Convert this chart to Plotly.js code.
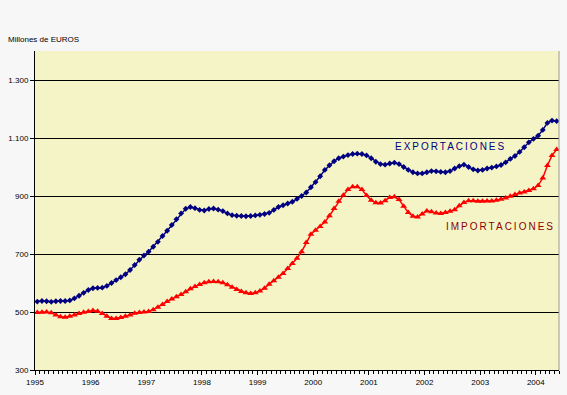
<!DOCTYPE html>
<html><head><meta charset="utf-8">
<script src="https://cdn.plot.ly/plotly-3.0.1.min.js"></script>
<style>html,body{margin:0;padding:0;background:#f7f7f7;}#chart{width:567px;height:395px;}</style>
</head><body><div id="chart"></div>
<script>
// Monthly data, Jan 1995 .. May 2004 (millones de euros)
const years = ["1995","1996","1997","1998","1999","2000","2001","2002","2003","2004"];
const exportaciones = [
536,538,537,535,537,538,538,540,547,556,566,576,
582,583,584,590,600,610,620,630,645,662,680,695,
708,725,742,762,780,800,820,840,856,862,858,852,
850,855,857,853,848,840,834,832,831,830,831,833,
835,838,842,852,862,868,874,880,890,900,912,930,
948,968,990,1006,1020,1030,1036,1041,1045,1046,1045,1040,
1030,1018,1010,1008,1012,1015,1010,1000,990,982,978,978,
982,986,985,983,982,986,995,1003,1008,1000,992,988,
990,995,998,1002,1007,1016,1028,1038,1052,1068,1085,1097,
1108,1128,1152,1160,1158];
const importaciones = [
498,499,500,497,490,484,482,485,490,495,499,502,
505,503,495,485,478,478,481,485,490,496,498,500,
502,508,516,526,536,545,553,560,570,580,588,595,
601,604,605,604,601,594,585,578,571,566,564,566,
572,582,596,608,620,633,650,667,685,708,740,768,
782,795,810,832,857,882,903,922,932,932,922,902,
885,877,876,884,895,897,888,865,843,830,828,838,
848,846,841,840,843,847,853,866,878,884,884,882,
882,883,883,885,889,893,899,905,910,914,919,925,
936,962,1005,1040,1060];
const yTickVals = [300,500,700,900,1100,1300];
const yTickText = ["300","500","700","900","1.100","1.300"];

const idx = exportaciones.map((_, i) => i);
const xTickVals = years.map((_, k) => k * 12 - 0.5);

const font = "Liberation Sans, Arial, sans-serif";
const traces = [
  {x: idx, y: exportaciones, type: "scatter", mode: "lines+markers", name: "EXPORTACIONES",
   line: {color: "#000080", width: 1.5},
   marker: {symbol: "diamond", size: 4.5, color: "#000080"}},
  {x: idx, y: importaciones, type: "scatter", mode: "lines+markers", name: "IMPORTACIONES",
   line: {color: "#ff0000", width: 1.5},
   marker: {symbol: "triangle-up", size: 6, color: "#ff0000"}}
];
const layout = {
  width: 567, height: 395,
  margin: {l: 35, r: 8, t: 51, b: 25},
  paper_bgcolor: "#f7f7f7",
  plot_bgcolor: "#f5f4c6",
  showlegend: false,
  font: {family: font, size: 8, color: "#000"},
  xaxis: {
    range: [-0.5, exportaciones.length - 0.5],
    tickmode: "array", tickvals: xTickVals, ticktext: years,
    ticks: "outside", ticklen: 4, tickcolor: "#000", tickwidth: 1,
    showline: true, linecolor: "#000", linewidth: 1,
    showgrid: false, zeroline: false,
    tickfont: {family: font, size: 8, color: "#000"},
    minor: {ticks: "outside", ticklen: 3, tickcolor: "#000", dtick: 1, tick0: -0.5, showgrid: false}
  },
  yaxis: {
    range: [300, 1400],
    tickmode: "array", tickvals: yTickVals, ticktext: yTickText,
    ticks: "outside", ticklen: 4, tickcolor: "#000",
    showline: true, linecolor: "#000", linewidth: 1,
    showgrid: true, gridcolor: "#000", gridwidth: 1, zeroline: false,
    tickfont: {family: font, size: 8, color: "#000"}
  },
  shapes: [
    {type: "line", xref: "paper", yref: "paper", x0: 1, x1: 1, y0: 0, y1: 1,
     line: {color: "#9a9a9a", width: 1}}
  ],
  annotations: [
    {text: "Millones de EUROS", xref: "paper", yref: "paper", x: -29/524, y: (370-40)/319,
     xanchor: "left", yanchor: "middle", showarrow: false,
     font: {family: font, size: 8, color: "#000"}},
    {text: "EXPORTACIONES", x: 89.2, y: 1072, showarrow: false,
     xanchor: "center", yanchor: "middle",
     font: {family: font, size: 10, color: "#000080"}},
    {text: "IMPORTACIONES", x: 99.8, y: 796, showarrow: false,
     xanchor: "center", yanchor: "middle",
     font: {family: font, size: 10, color: "#8b0000"}}
  ]
};
Plotly.newPlot("chart", traces, layout, {displayModeBar: false, staticPlot: true}).then(() => {
  document.querySelectorAll(".annotation-text").forEach((t, i) => {
    if (i > 0) t.style.letterSpacing = "2px";
  });
});
</script></body></html>
